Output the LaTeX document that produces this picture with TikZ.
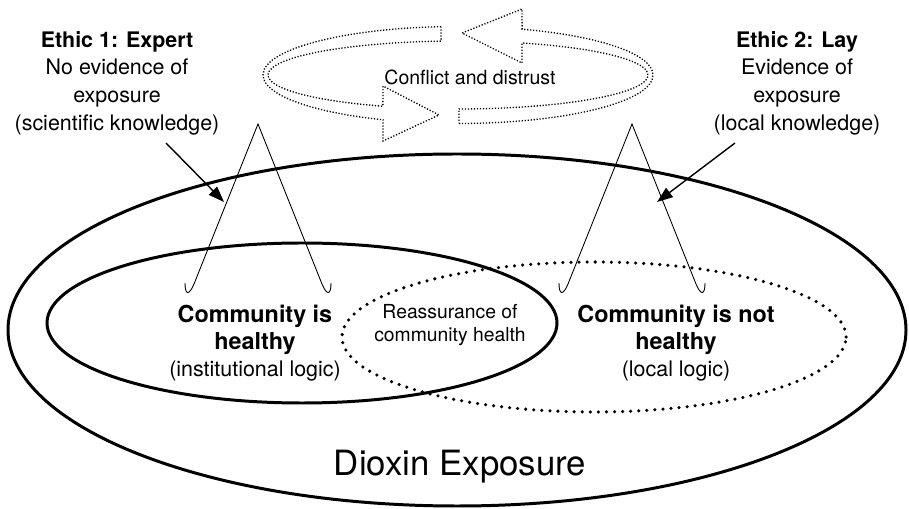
\documentclass[tikz,border=0pt]{standalone}
\usepackage{fontspec}
\setmainfont{TeX Gyre Heros}
\usetikzlibrary{arrows.meta}

\begin{document}
\begin{tikzpicture}[x=0.02cm,y=0.02cm,
    thick ring/.style={line width=1.7pt},
    dot ring/.style={line width=2pt,line cap=round,dash pattern=on 0pt off 4.6pt},
    cycle arrow/.style={line width=0.75pt,dash pattern=on 0.7pt off 1pt},
    peak/.style={line width=0.5pt},
    pointer/.style={line width=0.8pt,-{Triangle[length=9pt,width=6.5pt]}},
    ethic/.style={align=center,font=\fontsize{12.2}{14.2}\selectfont},
    logic/.style={align=center,font=\fontsize{12.2}{15.5}\selectfont}]
      \useasboundingbox (0,0) rectangle (909,-509);
      \draw[thick ring] (457,-330) ellipse [x radius=449, y radius=176];
      \draw[thick ring] (302,-323) ellipse [x radius=255, y radius=80];
      \draw[dot ring] (594,-337) ellipse [x radius=252, y radius=75];
      % conflict cycle
      \draw[cycle arrow] ([shift={(95:195 and 48.5)}]458,-75)
        arc[start angle=95,end angle=247.4,x radius=195,y radius=48.5]
        -- (383,-141) -- (439,-115) -- (383,-86)
        -- ([shift={(246.7:190 and 34)}]458,-75)
        arc[start angle=246.7,end angle=95.1,x radius=190,y radius=34] -- cycle;
      \draw[cycle arrow] ([shift={(270.3:195 and 48.5)}]458,-75)
        arc[start angle=270.3,end angle=430.8,x radius=195,y radius=48.5]
        -- (522,-9) -- (462,-33) -- (522,-63)
        -- ([shift={(430.3:190 and 34)}]458,-75)
        arc[start angle=430.3,end angle=270.3,x radius=190,y radius=34] -- cycle;
      \node[font=\fontsize{11.1}{13}\selectfont] (conflict) at (470,-77) {Conflict and distrust};
      % peaks
      \foreach \px in {258,632}
        \draw[peak] (\px-73,-283) .. controls (\px-73,-295) and (\px-69,-296) .. (\px-64,-284)
          -- (\px,-124) -- (\px+64,-284) .. controls (\px+69,-296) and (\px+73,-295) .. (\px+73,-283);
      \node[ethic] (expert) at (117,-83) {\textbf{Ethic 1: Expert}\\[1.5pt]No evidence of\\[1.5pt]exposure\\[1.5pt](scientific knowledge)};
      \node[ethic] (lay) at (797,-83) {\textbf{Ethic 2: Lay}\\[1.5pt]Evidence of\\[1.5pt]exposure\\[1.5pt](local knowledge)};
      \coordinate (expert tail) at (166,-143);
      \coordinate (expert head) at (224,-202);
      \coordinate (lay tail) at (735,-143);
      \coordinate (lay head) at (657,-202);
      \draw[pointer] (expert tail) -- (expert head);
      \draw[pointer] (lay tail) -- (lay head);
      \node[logic] (healthy) at (255,-343) {{\fontsize{13.3}{15.9}\selectfont\bfseries Community is}\\{\fontsize{13.3}{15.9}\selectfont\bfseries healthy}\\(institutional logic)};
      \node[logic] (nothealthy) at (676,-343) {{\fontsize{13.3}{15.9}\selectfont\bfseries Community is not}\\{\fontsize{13.3}{15.9}\selectfont\bfseries healthy}\\(local logic)};
      \node[align=center,font=\fontsize{11}{13.2}\selectfont] (reassure) at (450,-325) {Reassurance of\\community health};
      \node[font=\fontsize{19.8}{24}\selectfont] (dioxin) at (460,-467) {Dioxin Exposure};
\end{tikzpicture}
\end{document}
